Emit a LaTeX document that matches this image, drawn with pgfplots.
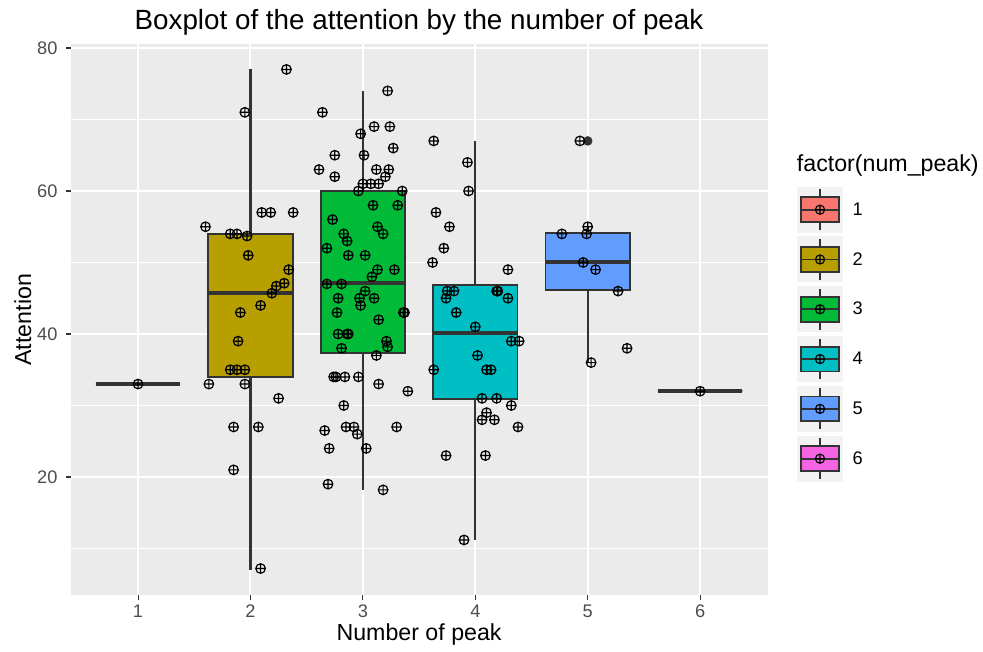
\documentclass[border=0pt]{standalone}
\usepackage{pgfplots}
\pgfplotsset{compat=1.18}
\usepgfplotslibrary{statistics}
\usepackage{fontspec}
\setmainfont{Liberation Sans}
\definecolor{panel}{HTML}{EBEBEB}
\definecolor{grey20}{HTML}{333333}
\definecolor{grey30}{HTML}{4D4D4D}
\definecolor{keybg}{HTML}{F2F2F2}
\definecolor{hue1}{HTML}{F8766D}
\definecolor{hue2}{HTML}{B79F00}
\definecolor{hue3}{HTML}{00BA38}
\definecolor{hue4}{HTML}{00BFC4}
\definecolor{hue5}{HTML}{619CFF}
\definecolor{hue6}{HTML}{F564E3}
\pgfplotsset{
 boxkey/.style={legend image code/.code={
   \fill[keybg, draw=none] (0pt,-23pt) rectangle (46.6pt,23pt);
   \draw[grey20, line width=1.8pt] (23.3pt,12.4pt) -- (23.3pt,20.4pt);
   \draw[grey20, line width=1.8pt] (23.3pt,-12.4pt) -- (23.3pt,-20.4pt);
   \draw[grey20, line width=1.8pt, fill=#1] (4pt,-12.4pt) rectangle (42.6pt,12.4pt);
   \draw[grey20, line width=1.8pt] (4pt,0pt) -- (42.6pt,0pt);
   \draw[black, line width=1.1pt, fill=none] (23.3pt,0pt) circle (4.6pt) (18.7pt,0pt) -- (27.9pt,0pt) (23.3pt,-4.6pt) -- (23.3pt,4.6pt);
   \path[draw=none, fill=none] (0pt,-23pt) rectangle (56pt,23pt);
 }},
 gbox/.style={draw=grey20, fill=#1, line width=1.8pt, solid},
}
\begin{document}
\begin{tikzpicture}
\useasboundingbox (0pt,0pt) rectangle (983pt,651pt);
\begin{axis}[
 name=ax,
 at={(70.6pt,56pt)}, anchor=south west,
 scale only axis, width=697pt, height=550.6pt,
 xmin=0.4, xmax=6.6, ymin=3.5, ymax=80.5,
 axis background/.style={fill=panel},
 axis line style={draw=none},
 xtick={1,2,3,4,5,6}, ytick={20,40,60,80}, minor ytick={10,30,50,70},
 grid=both,
 major grid style={white, line width=2pt},
 minor grid style={white, line width=1pt},
 tick align=outside, tick pos=left,
 major tick length=5pt, minor tick length=0pt,
 major tick style={color=grey20, line width=1.1pt},
 /pgf/number format/assume math mode=true,
 ticklabel style={font=\fontsize{18.2}{18.2}\selectfont, text=grey30},
 yticklabel style={inner sep=0pt, anchor=east, xshift=-8pt},
 xticklabel style={inner sep=0pt, anchor=north, yshift=-5pt},
 xlabel={Number of peak}, ylabel={Attention},
 label style={font=\fontsize{23.2}{23.2}\selectfont, inner sep=0pt},
 xlabel style={at={(axis description cs:0.5,-0.0835)}, anchor=base},
 ylabel style={at={(axis description cs:-0.0568,0.5)}, anchor=base, rotate=0},
 legend style={at={(axis description cs:1.0418,0.7416)}, anchor=north west,
   draw=none, fill=none, inner sep=0pt, outer sep=0pt, row sep=3.8pt,
   nodes={inner sep=0pt}, font=\fontsize{18.2}{18.2}\selectfont},
 legend cell align=left,
 boxplot/draw direction=y,
 boxplot/box extend=0.75,
 boxplot/whisker extend=0,
 boxplot/every median/.style={line width=3.6pt, solid},
 boxplot/every whisker/.style={line width=2.2pt, solid},
 boxplot/every box/.style={line width=1.8pt, solid},
 clip=false,
]
\addlegendimage{boxkey=hue1}\addlegendentry{1}
\addlegendimage{boxkey=hue2}\addlegendentry{2}
\addlegendimage{boxkey=hue3}\addlegendentry{3}
\addlegendimage{boxkey=hue4}\addlegendentry{4}
\addlegendimage{boxkey=hue5}\addlegendentry{5}
\addlegendimage{boxkey=hue6}\addlegendentry{6}

\addplot[gbox=hue1, boxplot prepared={lower whisker=33, lower quartile=33, median=33, upper quartile=33, upper whisker=33, draw position=1}] coordinates {};
\addplot[gbox=hue2, boxplot prepared={lower whisker=7, lower quartile=34, median=45.7, upper quartile=54, upper whisker=77, draw position=2}] coordinates {};
\addplot[gbox=hue3, boxplot prepared={lower whisker=18.2, lower quartile=37.3, median=47.1, upper quartile=60, upper whisker=74, draw position=3}] coordinates {};
\addplot[gbox=hue4, boxplot prepared={lower whisker=11.2, lower quartile=30.9, median=40.1, upper quartile=46.9, upper whisker=67, draw position=4}] coordinates {};
\addplot[gbox=hue5, boxplot prepared={lower whisker=36, lower quartile=46.2, median=50.1, upper quartile=54.1, upper whisker=55, draw position=5}] coordinates {};
\addplot[gbox=hue6, boxplot prepared={lower whisker=32, lower quartile=32, median=32, upper quartile=32, upper whisker=32, draw position=6}] coordinates {};
% outlier
\addplot[only marks, mark=*, mark size=4.5pt, color=grey20] coordinates {(5,67)};
% jittered points
\addplot[only marks, mark=oplus, mark size=4.8pt, color=black, mark options={line width=1.2pt}] coordinates {
(1.00,33)
(2.32,77) (1.95,71) (1.60,55) (2.10,57) (2.18,57) (2.38,57) (1.82,54) (1.88,54) (1.97,53.7)
(1.98,51) (2.34,49) (2.30,47.1) (2.23,46.7) (2.19,45.7) (2.09,44) (1.91,43) (1.89,39)
(1.82,35) (1.88,35) (1.95,35) (1.63,33) (1.95,33) (2.25,31) (1.85,27) (2.07,27) (1.85,21) (2.09,7.2)
(3.22,74) (2.64,71) (3.10,69) (3.24,69) (2.98,68) (3.27,66) (2.75,65) (3.01,65) (2.61,63)
(2.75,62) (3.12,63) (3.23,63) (3.20,62) (3.00,61) (3.07,61) (3.14,61) (2.96,60) (3.35,60)
(3.09,58) (3.31,58) (2.73,56) (3.13,55) (3.18,54) (2.83,54) (2.86,53) (2.68,52) (2.87,51)
(3.02,51) (3.13,49) (3.28,49) (3.08,48) (2.68,47) (2.81,47) (3.02,46) (2.78,45) (2.97,45)
(3.10,45) (2.98,44) (2.77,43) (3.36,43) (3.37,43) (3.14,42) (2.78,40) (2.86,40) (2.87,40)
(3.21,39) (3.22,38.2) (2.81,38) (3.12,37) (2.74,34) (2.76,34) (2.84,34) (2.96,34) (3.14,33)
(3.40,32) (2.83,30) (2.66,26.5) (2.85,27) (2.92,27) (2.95,26) (3.30,27) (2.70,24) (3.03,24)
(2.69,19) (3.18,18.2)
(3.63,67) (3.93,64) (3.94,60) (3.65,57) (3.77,55) (3.72,52) (3.62,50) (4.29,49) (3.75,46)
(3.81,46) (3.74,45) (4.19,46) (4.20,46) (4.29,45) (3.83,43) (4.00,41) (4.32,39) (4.39,39)
(4.02,37) (3.63,35) (4.10,35) (4.14,35) (4.06,31) (4.19,31) (4.32,30) (4.10,29) (4.06,28)
(4.17,28) (4.38,27) (3.74,23) (4.09,23) (3.90,11.2)
(4.93,67) (5.00,55) (4.99,54) (4.77,54) (4.96,50) (5.07,49) (5.27,46) (5.35,38) (5.03,36)
(6.00,32)
};
\end{axis}
\node[anchor=base, inner sep=0pt, font=\fontsize{27.8}{27.8}\selectfont] at (419pt,621pt) {Boxplot of the attention by the number of peak};
\node[anchor=base west, inner sep=0pt, font=\fontsize{23.2}{23.2}\selectfont] at (796.7pt,479pt) {factor(num\_peak)};
\end{tikzpicture}
\end{document}
